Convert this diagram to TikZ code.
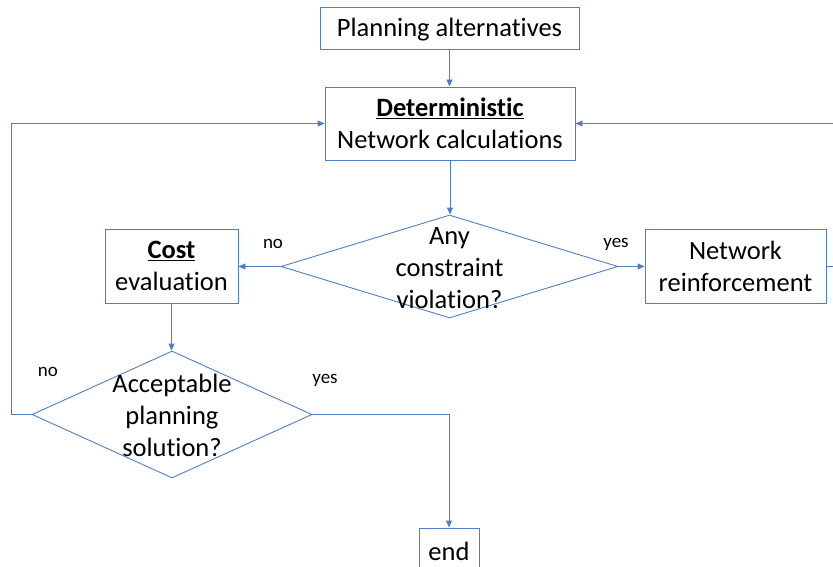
\documentclass[tikz,border=0pt]{standalone}
\usepackage{fontspec}
\setmainfont{Carlito}[Ligatures=NoCommon]
\usetikzlibrary{arrows.meta,shapes.geometric}
\definecolor{lineblue}{RGB}{80,126,196}
\begin{document}
\begin{tikzpicture}[x=1pt,y=-1pt,
  box/.style={draw=lineblue, line width=0.9pt, rectangle, inner sep=0pt, align=center, font=\fontsize{26.5}{32}\selectfont},
  dia/.style={draw=lineblue, line width=0.9pt, diamond, inner sep=0pt},
  dtext/.style={align=center, inner sep=0pt, font=\fontsize{26.5}{32}\selectfont},
  lbl/.style={inner sep=0pt, font=\fontsize{19}{22}\selectfont},
  conn/.style={draw=lineblue, line width=0.9pt, -{Triangle[length=7pt,width=6pt]}}]
\useasboundingbox (0,0) rectangle (833,567);
\clip (0,0) rectangle (833,567);
\node[box, minimum width=259pt, minimum height=42pt, text depth=2pt] (plan) at (449.5,28) {Planning alternatives};
\node[box, minimum width=250pt, minimum height=73pt] (det) at (450,123.5) {\textbf{\underline{Deterministic}}\\Network calculations};
\node[dia, minimum width=337pt, minimum height=103pt] (d1) at (449.5,266.5) {};
\node[dtext] (d1t) at (449.5,268) {Any\\constraint\\violation?};
\node[box, minimum width=133pt, minimum height=74pt] (cost) at (171.5,266) {\textbf{\underline{Cost}}\\evaluation};
\node[box, minimum width=181pt, minimum height=74pt] (reinf) at (735.5,266) {Network\\reinforcement};
\node[dia, minimum width=280pt, minimum height=127pt] (d2) at (172,414.5) {};
\node[dtext] (d2t) at (172,415) {Acceptable\\planning\\solution?};
\node[box, minimum width=60pt, minimum height=46pt] (end) at (449,551) {end};
\node[lbl] (no1) at (273,244) {no};
\node[lbl] (yes1) at (616,244) {yes};
\node[lbl] (no2) at (48,372) {no};
\node[lbl] (yes2) at (325,380) {yes};
\draw[conn] (plan.south) -- (plan.south |- det.north);
\draw[conn] (det.south) -- (det.south |- d1.north);
\draw[conn] (d1.west) -- (d1.west -| cost.east);
\draw[conn] (d1.east) -- (d1.east -| reinf.west);
\draw[conn] (cost.south) -- (cost.south |- d2.north);
\draw[conn] (d2.west) -- ++(-20,0) |- (det.west);
\draw[conn] (d2.east) -| (end.north);
\draw[conn] (reinf.east) -- ++(20,0) |- (det.east);
\end{tikzpicture}
\end{document}
